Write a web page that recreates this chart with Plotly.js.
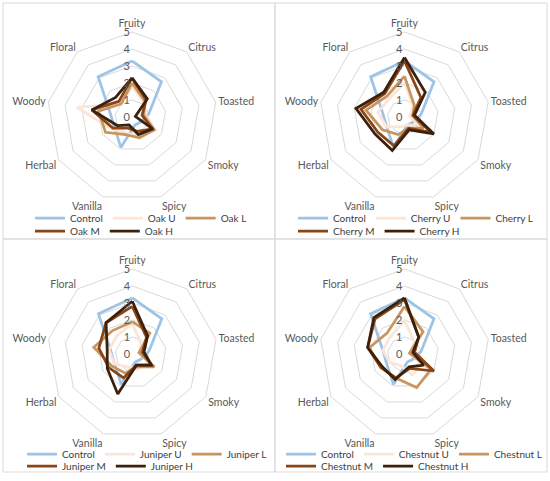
<!DOCTYPE html>
<html><head><meta charset="utf-8">
<script src="https://cdn.plot.ly/plotly-3.0.1.min.js"></script>
<style>html,body{margin:0;padding:0;background:#fff;} #chart{width:550px;height:481px;}</style>
</head><body><div id="chart"></div>
<script>
// ---- data ----
const categories = ['Fruity','Citrus','Toasted','Smoky','Spicy','Vanilla','Herbal','Woody','Floral'];
const radialTicks = [0,1,2,3,4,5];
const control = [3.3,2.7,1.0,0.6,0.5,1.9,1.2,1.3,3.1];

const oakNames = ['Control','Oak U','Oak L','Oak M','Oak H'];
const oakU = [1.8,1.1,0.8,1.6,1.2,1.0,1.4,3.3,1.0];
const oakL = [2.0,1.2,0.7,1.5,1.3,1.1,1.8,2.0,1.0];
const oakM = [2.3,1.3,0.6,1.4,0.9,0.7,1.3,2.4,1.2];
const oakH = [2.3,1.4,0.2,1.4,1.1,0.5,1.0,2.4,1.5];

const cherryNames = ['Control','Cherry U','Cherry L','Cherry M','Cherry H'];
const cherryU = [2.0,0.8,0.3,1.0,0.5,0.6,1.2,1.6,1.4];
const cherryL = [2.4,0.9,0.5,1.3,0.7,1.1,1.5,2.3,1.6];
const cherryM = [3.3,1.5,0.5,1.8,0.7,1.8,1.8,2.6,1.8];
const cherryH = [3.5,1.9,0.6,2.0,0.8,2.1,2.0,2.9,1.9];

const juniperNames = ['Control','Juniper U','Juniper L','Juniper M','Juniper H'];
const juniperU = [1.8,0.8,0.4,1.2,0.9,0.8,1.2,1.4,1.4];
const juniperL = [1.9,1.6,0.4,1.5,0.8,1.2,1.4,2.3,1.8];
const juniperM = [2.8,1.3,0.6,1.3,0.7,1.5,1.6,2.0,2.4];
const juniperH = [3.1,1.4,0.7,1.3,0.7,2.5,1.7,1.5,2.4];

const chestnutNames = ['Control','Chestnut U','Chestnut L','Chestnut M','Chestnut H'];
const chestnutU = [2.0,0.9,0.3,1.2,1.3,0.7,1.0,1.3,1.3];
const chestnutL = [2.8,1.7,0.3,1.8,2.1,1.5,1.6,2.1,1.6];
const chestnutM = [3.2,1.3,0.6,2.0,0.9,1.5,1.6,2.2,2.7];
const chestnutH = [3.3,1.3,0.5,1.3,0.8,1.6,1.5,2.2,2.8];

// ---- styling ----
const colors = ['#9dc3e6','#fbe5d6','#c8955f','#8a4516','#3b200c'];
const FONT = 'Lato, "Liberation Sans", sans-serif';
const W = 550, H = 481;

const panels = [
  {names: oakNames, data: [control, oakU, oakL, oakM, oakH], cx: 132, cy: 117, box: [3,3,275,239], lx: 30, ly: [218, 231]},
  {names: cherryNames, data: [control, cherryU, cherryL, cherryM, cherryH], cx: 404.5, cy: 117, box: [275,3,547,239], lx: 293, ly: [218, 231]},
  {names: juniperNames, data: [control, juniperU, juniperL, juniperM, juniperH], cx: 132.3, cy: 354, box: [3,239,275,472], lx: 22, ly: [454, 466]},
  {names: chestnutNames, data: [control, chestnutU, chestnutL, chestnutM, chestnutH], cx: 404.5, cy: 354, box: [275,239,547,472], lx: 281, ly: [454, 466]}
];
const R = 85;

const traces = [];
const layout = {
  width: W, height: H,
  margin: {l:0, r:0, t:0, b:0},
  paper_bgcolor: '#ffffff',
  font: {family: FONT, color: '#595959'},
  showlegend: true,
  shapes: []
};

panels.forEach((p, pi) => {
  const pid = pi === 0 ? 'polar' : 'polar' + (pi + 1);
  layout[pid] = {
    domain: {
      x: [(p.cx - R) / W, (p.cx + R) / W],
      y: [1 - (p.cy + R) / H, 1 - (p.cy - R) / H]
    },
    bgcolor: 'rgba(0,0,0,0)',
    gridshape: 'linear',
    angularaxis: {
      type: 'category',
      categoryarray: categories,
      rotation: 90,
      direction: 'clockwise',
      showgrid: false,
      showline: true,
      linecolor: '#d9d9d9',
      linewidth: 1,
      ticks: '',
      tickfont: {family: FONT, size: 10.5, color: '#595959'}
    },
    radialaxis: {
      range: [0, 5],
      tickvals: radialTicks,
      ticktext: radialTicks.map(String),
      angle: 90,
      side: 'counterclockwise',
      tickangle: 90,
      showline: false,
      ticks: '',
      gridcolor: '#d9d9d9',
      gridwidth: 1,
      tickfont: {family: FONT, size: 11, color: '#595959'}
    }
  };
  const legIds = [2 * pi + 1, 2 * pi + 2].map(n => n === 1 ? 'legend' : 'legend' + n);
  p.data.forEach((vals, si) => {
    traces.push({
      type: 'scatterpolar',
      subplot: pid,
      r: vals.concat([vals[0]]),
      theta: categories.concat([categories[0]]),
      mode: 'lines',
      name: p.names[si],
      line: {color: colors[si], width: 2.75},
      legend: si < 3 ? legIds[0] : legIds[1],
      hoverinfo: 'skip'
    });
  });
  legIds.forEach((lid, row) => {
    layout[lid] = {
      orientation: 'h',
      x: p.lx / W, xanchor: 'left',
      y: 1 - p.ly[row] / H, yanchor: 'middle',
      bgcolor: 'rgba(0,0,0,0)',
      borderwidth: 0,
      font: {family: FONT, size: 10, color: '#404040'},
      traceorder: 'normal',
      itemclick: false, itemdoubleclick: false
    };
  });
  layout.shapes.push({
    type: 'rect', xref: 'paper', yref: 'paper',
    x0: p.box[0] / W, x1: p.box[2] / W,
    y0: 1 - p.box[3] / H, y1: 1 - p.box[1] / H,
    line: {color: '#d9d9d9', width: 1}, fillcolor: 'rgba(0,0,0,0)', layer: 'below'
  });
});

Plotly.newPlot('chart', traces, layout, {staticPlot: true, displayModeBar: false});
</script>
</body></html>
